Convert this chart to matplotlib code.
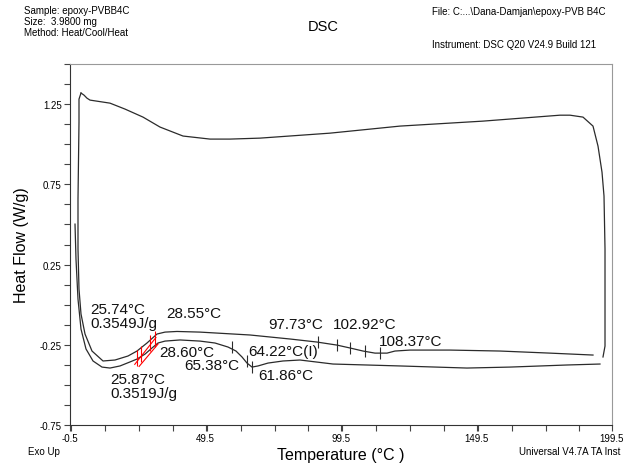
import numpy as np
import matplotlib
matplotlib.use("Agg")
import matplotlib.pyplot as plt
from matplotlib.ticker import MultipleLocator, FixedLocator

plt.rcParams['font.family'] = ['Liberation Sans', 'DejaVu Sans']

# first heat (lower outer curve)
heat1_t = [1.35, 1.71, 2.45, 3.56, 5.40, 7.99, 11.31, 14.26, 17.95, 21.64, 24.22,
           27.18, 29.76, 31.97, 34.56, 40.09, 47.47, 53.00, 57.80, 60.75, 62.97,
           64.81, 66.66, 68.87, 72.56, 78.10, 84.37, 96.55, 121.27, 145.99,
           161.86, 182.90, 195.07]
heat1_hf = [0.502, 0.284, 0.035, -0.152, -0.276, -0.351, -0.389, -0.395, -0.382,
            -0.357, -0.339, -0.308, -0.270, -0.239, -0.227, -0.220, -0.227, -0.239,
            -0.264, -0.289, -0.326, -0.364, -0.389, -0.382, -0.364, -0.351, -0.345,
            -0.370, -0.382, -0.395, -0.389, -0.376, -0.370]

# cooling (top curve), from hot end back to cold end
cool_t = [196.18, 196.92, 196.92, 196.92, 196.55, 195.81, 194.34, 192.49, 188.80,
          184.00, 180.31, 151.90, 121.27, 95.44, 69.61, 58.54, 51.16, 41.20,
          32.71, 26.44, 19.80, 14.26, 6.88, 5.77, 4.67, 3.56]
cool_hf = [-0.326, -0.258, 0.035, 0.347, 0.677, 0.826, 0.988, 1.113, 1.169,
           1.181, 1.181, 1.144, 1.113, 1.069, 1.038, 1.032, 1.032, 1.051,
           1.107, 1.169, 1.219, 1.256, 1.275, 1.287, 1.306, 1.319]

# second heat (inner curve)
heat2_t = [3.56, 2.82, 2.82, 2.45, 2.45, 2.82, 3.56, 5.04, 7.62, 11.68, 16.10,
           20.90, 24.22, 27.91, 31.60, 34.56, 38.98, 47.47, 65.92, 80.68, 90.64,
           98.02, 102.82, 107.62, 112.05, 116.48, 119.43, 124.96, 139.72, 158.17,
           176.62, 192.49]
heat2_hf = [1.319, 1.281, 1.138, 0.658, 0.347, 0.097, -0.058, -0.183, -0.289,
            -0.351, -0.345, -0.320, -0.289, -0.239, -0.183, -0.171, -0.167, -0.171,
            -0.189, -0.214, -0.233, -0.252, -0.270, -0.289, -0.302, -0.302, -0.289,
            -0.283, -0.283, -0.289, -0.302, -0.314]

# analysis marks
mark_t = [59.3, 64.8, 66.7, 91.0, 98.0, 102.8, 108.4, 113.9]
mark_hf = [-0.264, -0.351, -0.389, -0.233, -0.252, -0.270, -0.289, -0.302]
red_t = [24.2, 25.8, 28.9, 30.7]
red_hf = [-0.330, -0.310, -0.240, -0.215]
red_line1_t = [23.4, 31.2]
red_line1_hf = [-0.372, -0.205]
red_line2_t = [25.0, 32.0]
red_line2_hf = [-0.385, -0.245]

labels = ["25.74°C\n0.3549J/g", "28.55°C", "28.60°C", "65.38°C", "25.87°C\n0.3519J/g",
          "64.22°C(I)", "61.86°C", "97.73°C", "102.92°C", "108.37°C"]
label_t = [6.9, 34.9, 32.3, 41.6, 14.3, 65.2, 68.9, 72.6, 96.5, 113.5]
label_hf = [-0.068, -0.052, -0.295, -0.379, -0.504, -0.286, -0.438, -0.121, -0.121, -0.227]

fig = plt.figure(figsize=(6.32, 4.64), dpi=100)
ax = fig.add_axes([70/632, 1-426/464, 542/632, 361/464])

lc = '#2b2b2b'
ax.plot(heat1_t, heat1_hf, color=lc, lw=0.9)
ax.plot(cool_t, cool_hf, color=lc, lw=0.9)
ax.plot(heat2_t, heat2_hf, color=lc, lw=0.9)
ax.plot(mark_t, mark_hf, ls='none', marker='|', ms=9, mew=0.8, color=lc)
ax.plot(red_t, red_hf, ls='none', marker='|', ms=12, mew=0.8, color='red')
ax.plot(red_line1_t, red_line1_hf, color='red', lw=0.8)
ax.plot(red_line2_t, red_line2_hf, color='red', lw=0.8)

for s, t, h in zip(labels, label_t, label_hf):
    ax.text(t, h, s, fontsize=11, ha='left', va='center', linespacing=1.0, color='#111111')

ax.set_xlim(-0.5, 199.5)
ax.set_ylim(-0.75, 1.5)
ax.xaxis.set_major_locator(FixedLocator([-0.5, 49.5, 99.5, 149.5, 199.5]))
ax.xaxis.set_minor_locator(MultipleLocator(12.5))
ax.yaxis.set_major_locator(FixedLocator([-0.75, -0.25, 0.25, 0.75, 1.25]))
ax.yaxis.set_minor_locator(MultipleLocator(0.125))
ax.set_xticklabels(['-0.5', '49.5', '99.5', '149.5', '199.5'])
ax.set_yticklabels(['-0.75', '-0.25', '0.25', '0.75', '1.25'])
ax.tick_params(which='both', direction='out', length=4, width=0.8, color='#444444',
               labelsize=7, pad=2, top=False, right=False)
for side in ['top', 'right']:
    ax.spines[side].set_color('#999999')
for side in ['left', 'bottom']:
    ax.spines[side].set_color('#333333')

ax.set_xlabel('Temperature (°C )', fontsize=11.5, labelpad=3)
ax.set_ylabel('Heat Flow (W/g)', fontsize=11.5, labelpad=8)

fig.text(24/632, 1-11/464, 'Sample: epoxy-PVBB4C', fontsize=7, va='center')
fig.text(24/632, 1-22/464, 'Size:  3.9800 mg', fontsize=7, va='center')
fig.text(24/632, 1-33/464, 'Method: Heat/Cool/Heat', fontsize=7, va='center')
fig.text(323/632, 1-27/464, 'DSC', fontsize=10.5, ha='center', va='center')
fig.text(432/632, 1-12/464, 'File: C:...\\Dana-Damjan\\epoxy-PVB B4C', fontsize=7, va='center')
fig.text(432/632, 1-45/464, 'Instrument: DSC Q20 V24.9 Build 121', fontsize=7, va='center')
fig.text(28/632, 1-452/464, 'Exo Up', fontsize=7, va='center')
fig.text(620/632, 1-452/464, 'Universal V4.7A TA Inst', fontsize=7, ha='right', va='center')

fig.savefig('out.png', dpi=100)
